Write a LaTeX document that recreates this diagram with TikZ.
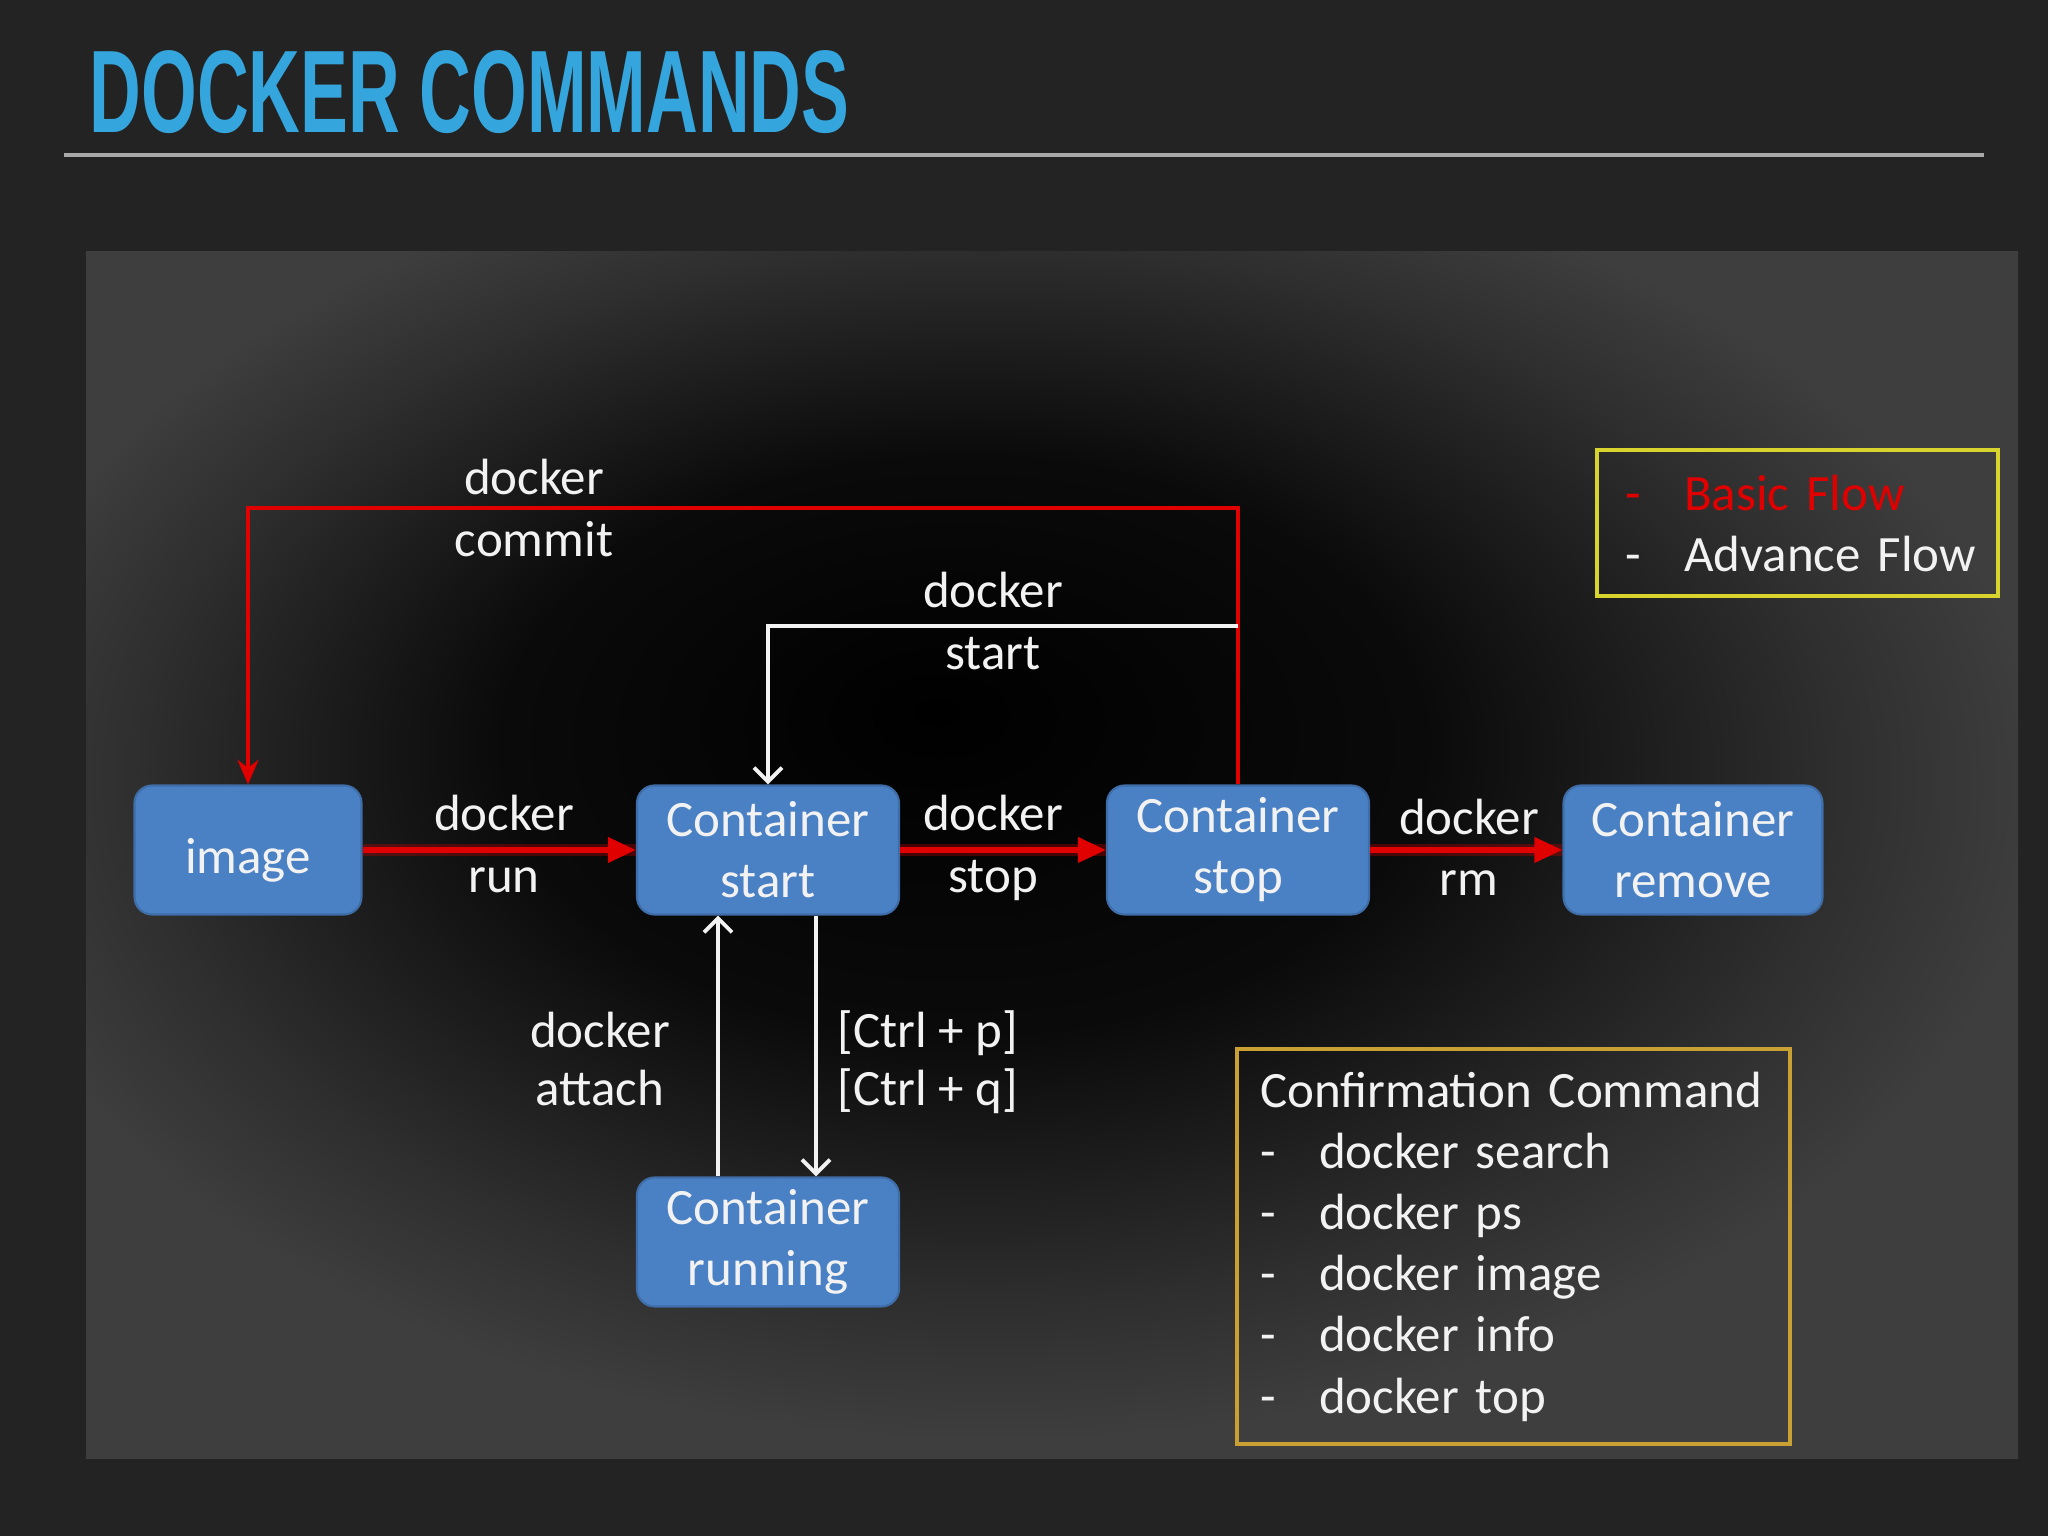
\documentclass[tikz,border=0pt]{standalone}
\usepackage{fontspec}
\setmainfont{Carlito}
\newfontfamily\titlefont[FakeStretch=0.61]{Liberation Sans}
\usetikzlibrary{arrows.meta}
\usetikzlibrary{positioning}

\definecolor{slidebg}{HTML}{232323}
\definecolor{titleblue}{HTML}{35A6DD}
\definecolor{rulegray}{HTML}{A9A9A9}
\definecolor{panelgray}{HTML}{3E3E3E}
\definecolor{boxblue}{HTML}{4A80C4}
\definecolor{flowred}{HTML}{E00000}
\definecolor{legendyellow}{HTML}{D8D42E}
\definecolor{confirmgold}{HTML}{C9A034}
\definecolor{textwhite}{HTML}{F2F2F2}

\pgfdeclareradialshading{panelglow}{\pgfpoint{-3bp}{6bp}}{color(0bp)=(black); color(12bp)=(black!96!white); color(22bp)=(panelgray!75!black); color(27bp)=(panelgray); color(50bp)=(panelgray)}

\newcommand{\flowitem}[1]{\mbox{\makebox[16.8pt][l]{-}#1}}

\begin{document}
\begin{tikzpicture}[font=\fontsize{14.5}{17.4}\selectfont,
state/.style={rectangle, rounded corners=5pt, fill=boxblue, draw=boxblue!85!black, line width=0.6pt,
  text=textwhite, align=center, minimum width=2.62cm, minimum height=1.29cm, inner sep=2pt},
cmd/.style={text=textwhite, align=center, inner sep=0pt},
basicflow/.style={draw=flowred, line width=1.6pt, -{Triangle[length=8pt,width=7pt]},
  preaction={draw=flowred, line width=3.6pt, opacity=0.3, -}},
basicline/.style={draw=flowred, line width=1pt},
advflow/.style={draw=textwhite, line width=1.1pt, -{Straight Barb[length=4pt,width=8pt]}},
infobox/.style={rectangle, line width=1.2pt, text=textwhite, align=left, anchor=north west}]

\fill[slidebg] (0,0) rectangle (20.48,15.36);
\useasboundingbox (0,0) rectangle (20.48,15.36);
\node[anchor=base west, inner sep=0pt, text=titleblue, font=\titlefont\bfseries\fontsize{33.4}{36}\selectfont] (title) at (0.89,14.03) {DOCKER COMMANDS};
\draw[rulegray, line width=1.1pt] (0.64,13.81) -- (19.84,13.81);
\shade[shading=panelglow] (0.86,0.77) rectangle (20.18,12.84);

\node[state, minimum width=2.27cm, text height=16pt] (image) at (2.48,6.86) {image};
\node[state] (start) at (7.68,6.86) {Container\\start};
\node[state] (stop) at (12.38,6.86) {Container\\stop};
\node[state, minimum width=2.59cm] (remove) at (16.93,6.86) {Container\\remove};
\node[state] (running) at (7.68,2.94) {Container\\running};

\node[cmd] (runlabel) at (5.04,6.92) {docker\\run};
\node[cmd] (stoplabel) at (9.93,6.88) {docker\\stop};
\node[cmd] (rmlabel) at (14.69,6.89) {docker\\rm};
\node[cmd] (commitlabel) at (5.34,10.28) {docker\\commit};
\node[cmd] (startlabel) at (9.93,9.15) {docker\\start};
\node[cmd] (attachlabel) at (6.00,4.77) {docker\\[-1pt]attach};
\node[cmd, align=left, anchor=west] (detachlabel) at (8.37,4.74) {[Ctrl + p]\\[-1pt][Ctrl + q]};

\draw[basicflow] (image) -- (start);
\draw[basicflow] (start) -- (stop);
\draw[basicflow] (stop) -- (remove);
\coordinate (commitbend) at (12.38,10.28);
\draw[basicline, -{Stealth[length=7pt,width=6pt]}] (stop.north) -- (commitbend) -| (image.north);
\coordinate (startfork) at (12.38,9.10);
\draw[advflow] (startfork) -| (start.north);
\draw[advflow] ([xshift=-0.5cm]running.north) -- ([xshift=-0.5cm]start.south);
\draw[advflow] ([xshift=0.48cm]start.south) -- ([xshift=0.48cm]running.north);

\node[infobox, draw=legendyellow, text width=3.45cm, inner xsep=0.28cm, minimum height=1.46cm] (legend) at (15.95,10.88)
  {{\color{flowred}\flowitem{Basic Flow}}\\ \flowitem{Advance Flow}};
\node[infobox, draw=confirmgold, text width=5.07cm, inner xsep=0.23cm, minimum height=3.95cm] (confirm) at (12.35,4.89)
  {Confirmation Command\\ \flowitem{docker search}\\ \flowitem{docker ps}\\ \flowitem{docker image}\\ \flowitem{docker info}\\ \flowitem{docker top}};
\end{tikzpicture}
\end{document}
